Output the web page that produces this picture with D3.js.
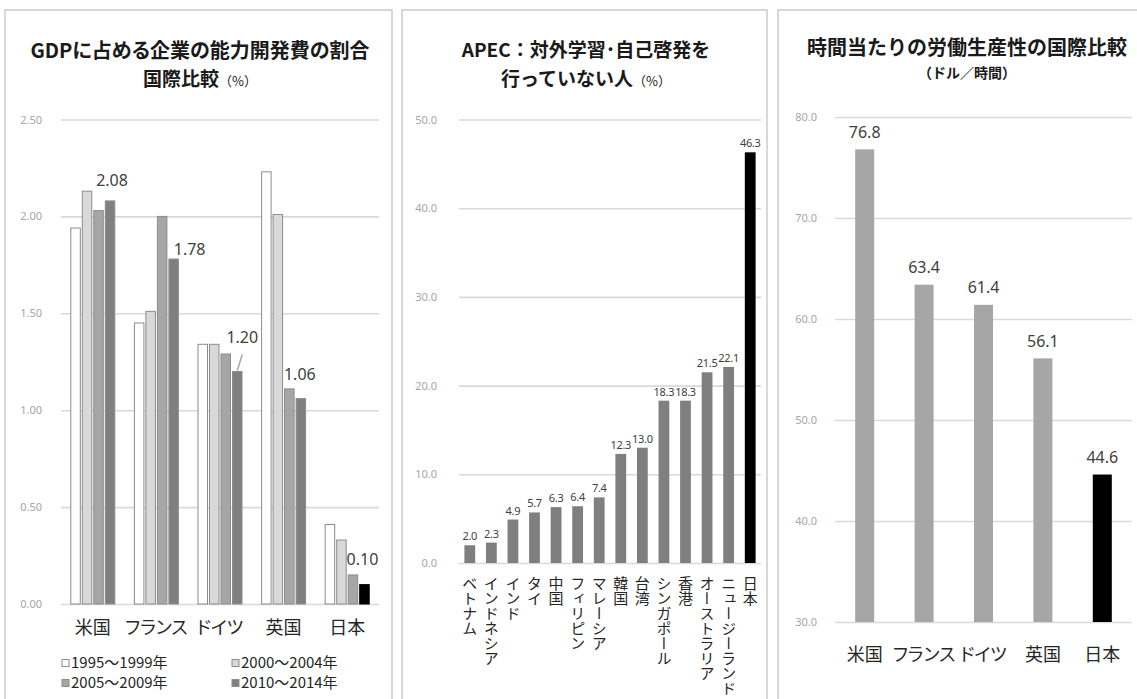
<!DOCTYPE html>
<html>
<head>
<meta charset="utf-8">
<script src="https://cdn.jsdelivr.net/npm/d3@7"></script>
<style>
  body { margin: 0; background: #fff; }
  svg text { font-family: "Noto Sans CJK JP", "Noto Sans", sans-serif; }
</style>
</head>
<body>
<div class="container"></div>
<script>
const w = 1137
const h = 699

// panel 1: GDPに占める企業の能力開発費の割合
const p1Countries = ['米国', 'フランス', 'ドイツ', '英国', '日本']
const p1Series = ['1995～1999年', '2000～2004年', '2005～2009年', '2010～2014年']
const p1Values = [
  [1.94, 2.13, 2.03, 2.08],
  [1.45, 1.51, 2.00, 1.78],
  [1.34, 1.34, 1.29, 1.20],
  [2.23, 2.01, 1.11, 1.06],
  [0.41, 0.33, 0.15, 0.10]
]
const p1Ticks = [0, 0.5, 1.0, 1.5, 2.0, 2.5]

// panel 2: APEC 対外学習・自己啓発を行っていない人
const p2Countries = ['ベトナム', 'インドネシア', 'インド', 'タイ', '中国', 'フィリピン', 'マレーシア',
  '韓国', '台湾', 'シンガポール', '香港', 'オーストラリア', 'ニュージーランド', '日本']
const p2Values = [2.0, 2.3, 4.9, 5.7, 6.3, 6.4, 7.4, 12.3, 13.0, 18.3, 18.3, 21.5, 22.1, 46.3]
const p2Ticks = [0, 10, 20, 30, 40, 50]

// panel 3: 時間当たりの労働生産性
const p3Countries = ['米国', 'フランス', 'ドイツ', '英国', '日本']
const p3Values = [76.8, 63.4, 61.4, 56.1, 44.6]
const p3Ticks = [30, 40, 50, 60, 70, 80]

const seriesFill = ['#ffffff', '#d9d9d9', '#a6a6a6', '#7f7f7f']
// label nudges for the last series (Excel-style hand placement)
const p1LabelNudge = [[2, -20], [16, -10], [5, -34], [-1, -24], [-2, -25]]

const svg = d3.select('.container')
  .append('svg')
  .attr('width', w)
  .attr('height', h)

svg.append('rect').attr('width', w).attr('height', h).attr('fill', '#fff')

// panel frames
const frames = [[5, 392], [402, 767], [778, 1150]]
frames.forEach(f => {
  svg.append('rect')
    .attr('x', f[0]).attr('y', 10)
    .attr('width', f[1] - f[0]).attr('height', 720)
    .attr('fill', 'none')
    .attr('stroke', '#c4c4c4')
    .attr('stroke-width', 1.3)
})

const title = (cx, y1, t1, y2, t2, t2small, opts) => {
  opts = opts || {}
  const l1 = svg.append('text')
    .attr('x', cx).attr('y', y1)
    .attr('text-anchor', 'middle')
    .attr('font-size', opts.size1 || 19).attr('font-weight', 700)
    .attr('fill', '#1a1a1a')
    .text(t1)
  if (opts.palt) l1.style('font-feature-settings', '"palt"')
  const t = svg.append('text')
    .attr('x', cx).attr('y', y2)
    .attr('text-anchor', 'middle')
    .attr('font-weight', 700)
    .attr('fill', '#1a1a1a')
  if (t2) t.append('tspan').attr('font-size', opts.size2 || 19).text(t2)
  if (t2small) t.append('tspan').attr('font-size', 13).attr('font-weight', 400).text(t2small)
}

const gridAxis = (g, scale, ticks, width, fmt, pad) => {
  g.call(d3.axisLeft(scale).tickValues(ticks).tickSize(-width).tickPadding(pad).tickFormat(d3.format(fmt)))
  g.select('.domain').remove()
  g.selectAll('.tick line').attr('stroke', '#d9d9d9').attr('stroke-width', 1.6)
  g.selectAll('.tick text').attr('fill', '#a6a6a6').attr('font-size', 11)
    .style('font-family', '"Noto Sans", sans-serif')
}

// ---------- panel 1 ----------
title(200, 58, 'GDPに占める企業の能力開発費の割合', 86, '国際比較', '（%）', { palt: true, size1: 20 })

const x0 = d3.scaleBand().domain(p1Countries).range([61, 379])
const x1 = d3.scaleBand().domain(d3.range(4))
  .range([(x0.bandwidth() - 44) / 2, (x0.bandwidth() + 44) / 2])
  .paddingInner(0.174)
const y1 = d3.scaleLinear().domain([0, 2.5]).range([604, 119.5])

gridAxis(svg.append('g').attr('transform', 'translate(61,0)'), y1, p1Ticks, 318, '.2f', 19)

const groups = svg.selectAll('.grp')
  .data(p1Values)
  .enter()
  .append('g')
  .attr('transform', (d, i) => 'translate(' + x0(p1Countries[i]) + ',0)')

groups.selectAll('rect')
  .data((d, gi) => d.map((v, si) => ({ v, si, gi })))
  .enter()
  .append('rect')
  .attr('x', d => x1(d.si))
  .attr('width', x1.bandwidth())
  .attr('y', d => y1(d.v))
  .attr('height', d => y1(0) - y1(d.v))
  .attr('fill', d => (d.gi === 4 && d.si === 3) ? '#000' : seriesFill[d.si])
  .attr('stroke', d => (d.gi === 4 && d.si === 3) ? '#000' : '#8c8c8c')
  .attr('stroke-width', 1)

// labels on last series
p1Values.forEach((vals, i) => {
  const v = vals[3]
  const bx = x0(p1Countries[i]) + x1(3) + x1.bandwidth() / 2
  const by = y1(v)
  const n = p1LabelNudge[i]
  svg.append('text')
    .attr('x', bx + n[0]).attr('y', by + n[1])
    .attr('dy', '0.35em')
    .attr('text-anchor', 'middle')
    .attr('font-size', 16).attr('fill', '#404040')
    .style('font-family', '"Noto Sans", sans-serif')
    .text(d3.format('.2f')(v))
  if (n[1] < -30) {
    svg.append('line')
      .attr('x1', bx + n[0]).attr('y1', by + n[1] + 17)
      .attr('x2', bx).attr('y2', by - 1)
      .attr('stroke', '#a6a6a6').attr('stroke-width', 1.5)
  }
})

svg.selectAll('.p1cat')
  .data(p1Countries)
  .enter()
  .append('text')
  .attr('x', d => x0(d) + x0.bandwidth() / 2)
  .attr('y', 628).attr('dy', '0.35em')
  .attr('text-anchor', 'middle')
  .attr('font-size', 18).attr('fill', '#262626')
  .style('font-feature-settings', '"palt"')
  .text(d => d)

// legend
const legend = svg.selectAll('.leg')
  .data(p1Series)
  .enter()
  .append('g')
  .attr('transform', (d, i) => 'translate(' + (i % 2 ? 232 : 62) + ',' + (i < 2 ? 663 : 683) + ')')
legend.append('rect')
  .attr('x', 0).attr('y', -3.5).attr('width', 7).attr('height', 7)
  .attr('fill', (d, i) => seriesFill[i]).attr('stroke', '#8c8c8c')
legend.append('text')
  .attr('x', 9).attr('dy', '0.35em')
  .attr('font-size', 15).attr('fill', '#262626')
  .text(d => d)

// ---------- panel 2 ----------
title(586, 57, 'APEC：対外学習･自己啓発を', 86, '行っていない人', '（%）')

const xb = d3.scaleBand().domain(p2Countries).range([459, 761]).paddingInner(0.5).paddingOuter(0.25)
const yb = d3.scaleLinear().domain([0, 50]).range([563, 119.5])

gridAxis(svg.append('g').attr('transform', 'translate(459,0)'), yb, p2Ticks, 302, '.1f', 22)

svg.selectAll('.p2bar')
  .data(p2Values)
  .enter()
  .append('rect')
  .attr('x', (d, i) => xb(p2Countries[i]))
  .attr('width', xb.bandwidth())
  .attr('y', d => yb(d))
  .attr('height', d => yb(0) - yb(d))
  .attr('fill', (d, i) => p2Countries[i] === '日本' ? '#000' : '#7f7f7f')

svg.selectAll('.p2lab')
  .data(p2Values)
  .enter()
  .append('text')
  .attr('x', (d, i) => xb(p2Countries[i]) + xb.bandwidth() / 2)
  .attr('y', d => yb(d) - 5)
  .attr('text-anchor', 'middle')
  .attr('font-size', 11).attr('fill', '#404040')
  .attr('letter-spacing', -0.3)
  .style('font-family', '"Noto Sans", sans-serif')
  .text(d => d3.format('.1f')(d))

svg.selectAll('.p2cat')
  .data(p2Countries)
  .enter()
  .append('text')
  .attr('x', d => xb(d) + xb.bandwidth() / 2)
  .attr('y', 576)
  .attr('font-size', 15).attr('fill', '#262626')
  .style('writing-mode', 'vertical-rl')
  .style('text-orientation', 'upright')
  .text(d => d)

// ---------- panel 3 ----------
title(967, 55, '時間当たりの労働生産性の国際比較', 78, '（ドル／時間）', null, { size1: 20, size2: 14 })

const xc = d3.scaleBand().domain(p3Countries).range([835, 1132]).paddingInner(0.68).paddingOuter(0.34)
const yc = d3.scaleLinear().domain([30, 80]).range([622, 117])

gridAxis(svg.append('g').attr('transform', 'translate(835,0)'), yc, p3Ticks, 297, '.1f', 18)

svg.selectAll('.p3bar')
  .data(p3Values)
  .enter()
  .append('rect')
  .attr('x', (d, i) => xc(p3Countries[i]))
  .attr('width', xc.bandwidth())
  .attr('y', d => yc(d))
  .attr('height', d => yc(30) - yc(d))
  .attr('fill', (d, i) => p3Countries[i] === '日本' ? '#000' : '#a6a6a6')

svg.selectAll('.p3lab')
  .data(p3Values)
  .enter()
  .append('text')
  .attr('x', (d, i) => xc(p3Countries[i]) + xc.bandwidth() / 2)
  .attr('y', d => yc(d) - 17)
  .attr('dy', '0.35em')
  .attr('text-anchor', 'middle')
  .attr('font-size', 16).attr('fill', '#404040')
  .style('font-family', '"Noto Sans", sans-serif')
  .text(d => d3.format('.1f')(d))

svg.selectAll('.p3cat')
  .data(p3Countries)
  .enter()
  .append('text')
  .attr('x', d => xc(d) + xc.bandwidth() / 2)
  .attr('y', 655).attr('dy', '0.35em')
  .attr('text-anchor', 'middle')
  .attr('font-size', 18).attr('fill', '#262626')
  .style('font-feature-settings', '"palt"')
  .text(d => d)
</script>
</body>
</html>
